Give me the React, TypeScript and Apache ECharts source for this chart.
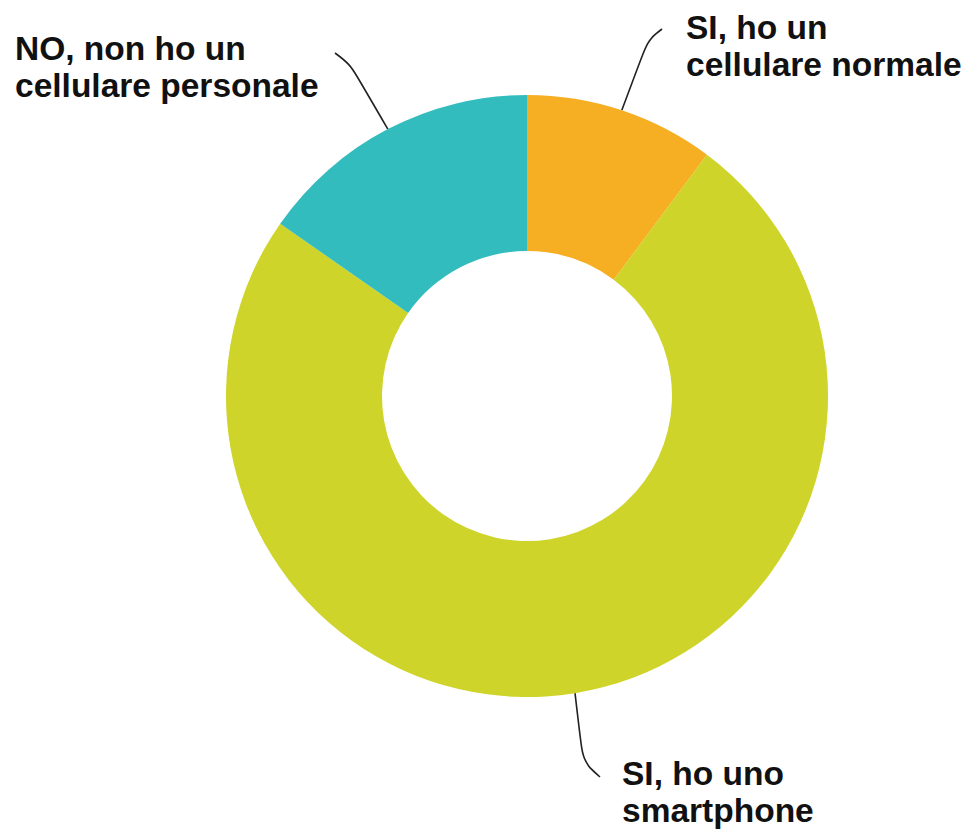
import React, { useEffect, useRef } from "react";
import * as echarts from "echarts";

const categories = [
  "SI, ho un\ncellulare normale",
  "SI, ho uno\nsmartphone",
  "NO, non ho un\ncellulare personale",
];
const values = [10.2, 74.5, 15.3];
const colors = ["#F6AE22", "#CFD42A", "#33BCBE"];
const labelPos: [number, number][] = [
  [686, 9],
  [622, 755],
  [15, 30],
];
// leader line bend and end points (annotation layout)
const leaderPts: [number, number][][] = [
  [[648, 40], [662, 29]],
  [[583, 762], [600, 777]],
  [[350, 64], [335, 53]],
];

export default function App() {
  const ref = useRef<HTMLDivElement>(null);
  useEffect(() => {
    if (!ref.current) return;
    const chart = echarts.init(ref.current, undefined, { renderer: "svg" });
    chart.setOption({
      animation: false,
      backgroundColor: "#ffffff",
      series: [
        {
          type: "pie",
          center: [527, 396],
          radius: [145, 301],
          startAngle: 90,
          clockwise: true,
          avoidLabelOverlap: false,
          data: categories.map((name, i) => ({
            name,
            value: values[i],
            itemStyle: { color: colors[i] },
          })),
          label: {
            show: true,
            position: "outside",
            formatter: "{b}",
            color: "#111",
            fontFamily: "Liberation Sans, Arial, sans-serif",
            fontWeight: "bold",
            fontSize: 33.5,
            lineHeight: 37,
            align: "left",
          },
          labelLine: {
            show: true,
            smooth: 0.35,
            length: 30,
            length2: 20,
            lineStyle: { color: "#222", width: 1.6 },
          },
          labelLayout: (params: any) => {
            const p = labelPos[params.dataIndex];
            const res: any = { x: p[0], y: p[1], align: "left", verticalAlign: "top" };
            if (params.labelLinePoints && params.labelLinePoints[0]) {
              const lp = leaderPts[params.dataIndex];
              res.labelLinePoints = [params.labelLinePoints[0], lp[0], lp[1]];
            }
            return res;
          },
          emphasis: { disabled: true },
        },
      ],
    });
    return () => chart.dispose();
  }, []);
  return <div ref={ref} style={{ width: 968, height: 832, position: "absolute", left: 0, top: 0 }} />;
}
